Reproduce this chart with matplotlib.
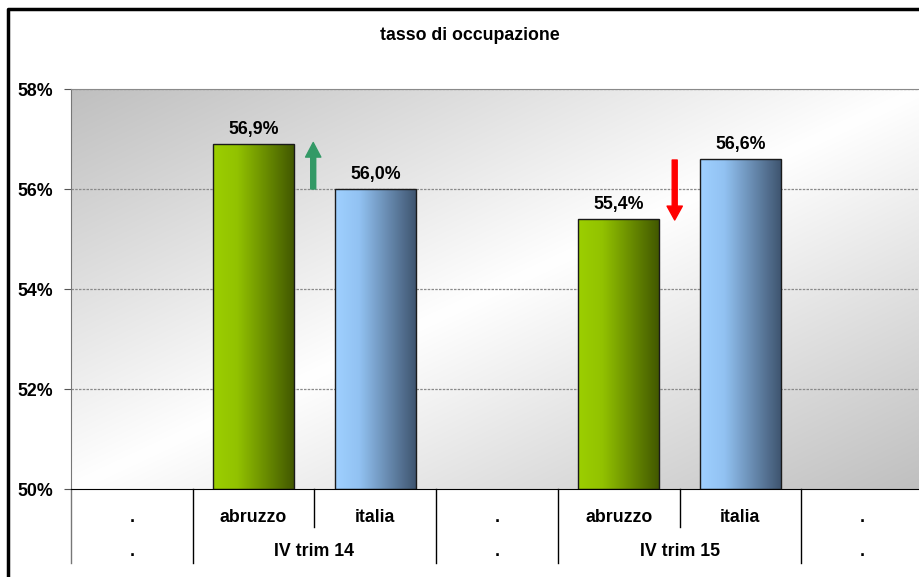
import numpy as np
import matplotlib
matplotlib.use("Agg")
import matplotlib.pyplot as plt
from matplotlib.colors import LinearSegmentedColormap
from matplotlib.lines import Line2D

# data
level1 = [".", "abruzzo", "italia", ".", "abruzzo", "italia", "."]
level2 = [".", "IV trim 14", ".", "IV trim 15", "."]
level2_pos = [0, 1.5, 3, 4.5, 6]
abruzzo_x = [1, 4]
abruzzo = [56.9, 55.4]
italia_x = [2, 5]
italia = [56.0, 56.6]
yticks = [50, 52, 54, 56, 58]

plt.rcParams['font.family'] = ['Liberation Sans', 'DejaVu Sans']
plt.rcParams['font.weight'] = 'bold'
FS = 12.8

fig = plt.figure(figsize=(9.2, 5.77), dpi=100)
W, H = 920, 577
ax = fig.add_axes([71 / W, (H - 489) / H, (923 - 71) / W, 400 / H])

# diagonal grey-white-grey background
nx, ny = 400, 200
xx, yy = np.meshgrid(np.linspace(0, 1, nx), np.linspace(0, 1, ny))
s = np.abs(xx + yy - 1)
v = 1 - 0.25 * s
bg = np.dstack([v, v, v])
ax.imshow(bg, extent=[-0.5, 6.5, 50, 58], aspect='auto', origin='upper',
          interpolation='bilinear', zorder=0)

# grid
for t in yticks[1:]:
    ax.axhline(t, color='#8a8a8a', lw=0.9, ls=(0, (2, 1)), zorder=1)

green = LinearSegmentedColormap.from_list(
    'g', [(0, '#9ccf00'), (0.3, '#92c200'), (1, '#425800')])
blue = LinearSegmentedColormap.from_list(
    'b', [(0, '#9fd0ff'), (0.3, '#92c2f2'), (1, '#3f5570')])
grad = np.linspace(0, 1, 256).reshape(1, -1)


def gradient_bars(xs, vals, cmap):
    bars = ax.bar(xs, [v - 50 for v in vals], bottom=50, width=0.665,
                  facecolor='none', edgecolor='#1a1a1a', lw=1.0, zorder=3)
    for b in bars:
        x0 = b.get_x()
        x1 = x0 + b.get_width()
        im = ax.imshow(grad, extent=[x0, x1, 50, 50 + b.get_height()],
                       aspect='auto', cmap=cmap, zorder=2)
        im.set_clip_path(b)
    for x, v in zip(xs, vals):
        ax.text(x, v + 0.2, f"{v:.1f}%".replace('.', ','), ha='center',
                va='baseline', fontsize=FS, fontweight='bold')


gradient_bars(abruzzo_x, abruzzo, green)
gradient_bars(italia_x, italia, blue)

# arrows
ax.annotate('', xy=(1.49, 56.93), xytext=(1.49, 56.0),
            arrowprops=dict(width=3.6, headwidth=11, headlength=10.5,
                            color='#339966', shrink=0), zorder=4)
ax.annotate('', xy=(4.46, 55.38), xytext=(4.46, 56.58),
            arrowprops=dict(width=3.6, headwidth=11, headlength=10,
                            color='#ff0000', shrink=0), zorder=4)

ax.set_xlim(-0.5, 6.5)
ax.set_ylim(50, 58)
ax.set_yticks(yticks)
ax.set_yticklabels([f"{t}%" for t in yticks], fontsize=FS, fontweight='bold')
ax.set_xticks([])
ax.tick_params(axis='y', length=5, color='#555555', pad=8)
ax.spines['right'].set_visible(False)
ax.spines['top'].set_color('#8a8a8a')
ax.spines['left'].set_color('#777777')
ax.spines['bottom'].set_color('black')

# category labels and separators
tr = ax.get_xaxis_transform()
for i, lab in enumerate(level1):
    ax.text(i, -0.07, lab, transform=tr, ha='center',
            va='center', fontsize=FS, fontweight='bold')
for p, lab in zip(level2_pos, level2):
    ax.text(p, -0.155, lab, transform=tr, ha='center',
            va='center', fontsize=FS, fontweight='bold')
for b in [-0.5, 0.5, 2.5, 3.5, 5.5, 6.5]:
    c = '#777777' if b == -0.5 else 'black'
    ax.add_line(Line2D([b, b], [0, -0.185], transform=tr, color=c, lw=1,
                       clip_on=False))
for b in [1.5, 4.5]:
    ax.add_line(Line2D([b, b], [0, -0.095], transform=tr, color='black', lw=1,
                       clip_on=False))

fig.text(470 / W, 1 - 35 / H, "tasso di occupazione", ha='center', va='center',
         fontsize=FS, fontweight='bold')

# outer frame (cropped chart border)
fig.add_artist(Line2D([8 / W, 8 / W, 1], [0, 1 - 8.5 / H, 1 - 8.5 / H],
                      transform=fig.transFigure, color='black', lw=2.5))

fig.savefig("out.png", dpi=100)
